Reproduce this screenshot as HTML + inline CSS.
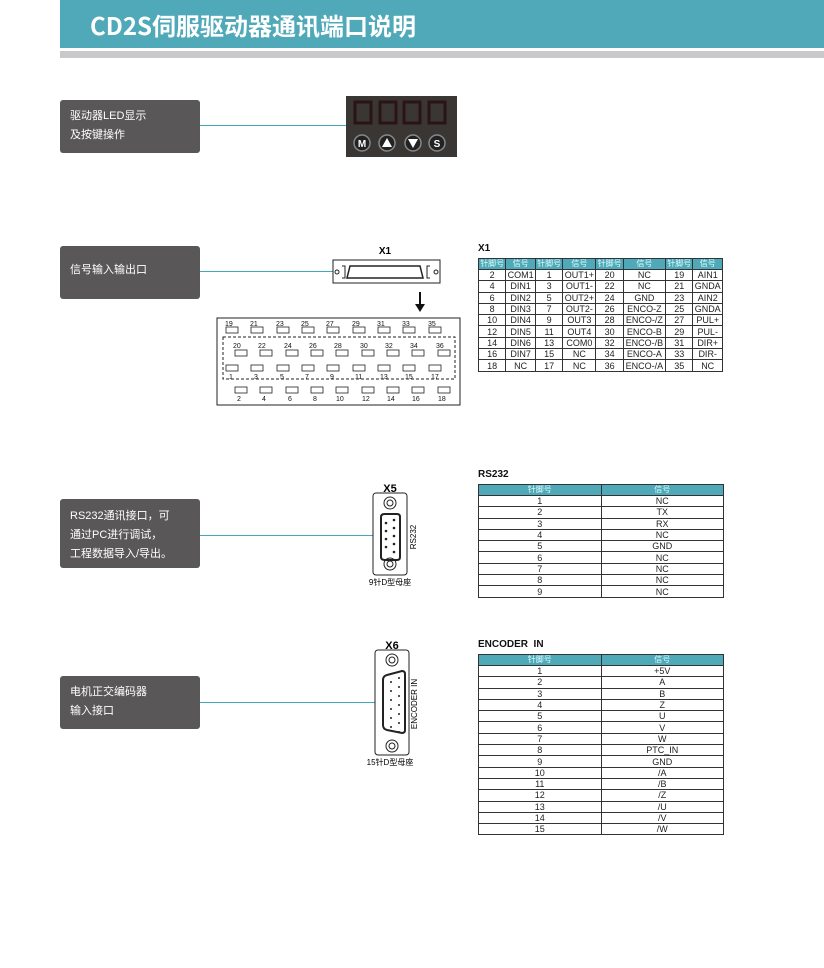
<!DOCTYPE html>
<html><head><meta charset="utf-8"><style>
*{margin:0;padding:0;box-sizing:border-box}
body{width:824px;height:968px;background:#fff;position:relative;overflow:hidden;font-family:"Liberation Sans","Noto Sans CJK SC",sans-serif}
.a{position:absolute}
.box{position:absolute;left:60px;width:140px;background:#595757;border-radius:3px;color:#fff;font-size:11px;line-height:19px;padding-left:10px}
.ln{position:absolute;height:1px;background:#3fa8ba}
table{border-collapse:collapse;position:absolute;font-size:9px;text-align:center;color:#222}
td{border:1px solid #333;height:11.3px;line-height:10px;padding:0}
th{background:#4fa9b8;color:#dff;font-weight:normal;font-size:8px;height:11px;line-height:10px;border:1px solid #333;padding:0}
.tt{position:absolute;font-weight:bold;font-size:10px;color:#111}
</style></head><body>
<div class="a" style="left:60px;top:0;width:764px;height:48px;background:#50a9b9"></div>
<div class="a" style="left:60px;top:51px;width:764px;height:7px;background:#c9c9cb"></div>
<div class="a" style="left:90px;top:7px;color:#fff;font-size:24px;font-weight:bold;font-family:'Noto Sans CJK SC','Liberation Sans',sans-serif">CD2S伺服驱动器通讯端口说明</div>

<div class="box" style="top:100px;height:53px;padding-top:7px">驱动器LED显示<br>及按键操作</div>
<div class="ln" style="left:200px;top:125px;width:146px"></div>
<svg class="a" style="left:346px;top:96px" width="111" height="61">
<rect width="111" height="61" fill="#3a3634"/>
<g fill="none" stroke="#2a1414" stroke-width="3">
<rect x="9" y="6" width="16" height="21"/><rect x="34" y="6" width="16" height="21"/><rect x="58" y="6" width="16" height="21"/><rect x="83" y="6" width="16" height="21"/></g>
<g fill="#222" stroke="#888" stroke-width="1.5"><circle cx="16" cy="47" r="8"/><circle cx="41" cy="47" r="8"/><circle cx="67" cy="47" r="8"/><circle cx="91" cy="47" r="8"/></g>
<text x="16" y="51" fill="#fff" font-size="10" font-weight="bold" text-anchor="middle">M</text>
<polygon points="41,42 46,51 36,51" fill="#fff"/><polygon points="62,43 72,43 67,52" fill="#fff"/>
<text x="91" y="51" fill="#fff" font-size="10" font-weight="bold" text-anchor="middle">S</text>
</svg>

<div class="box" style="top:246px;height:53px;padding-top:15px">信号输入输出口</div>
<div class="ln" style="left:200px;top:271px;width:133px"></div>
<svg class="a" style="left:210px;top:240px" width="260" height="170" font-family="Liberation Sans" >
<text x="175" y="14" font-size="10" font-weight="bold" text-anchor="middle">X1</text>
<rect x="123" y="20" width="107" height="23" fill="#fff" stroke="#222"/>
<circle cx="127" cy="32" r="2" fill="none" stroke="#222"/><circle cx="226" cy="32" r="2" fill="none" stroke="#222"/>
<path d="M132 26h3v12h-3M220 26h-3v12h3" fill="none" stroke="#222"/>
<path d="M140 26h70l3 12h-76z" fill="none" stroke="#222" stroke-width="1.5"/>
<line x1="210" y1="52" x2="210" y2="66" stroke="#111" stroke-width="2"/><polygon points="205,64 215,64 210,72" fill="#111"/>
<rect x="7" y="78" width="243" height="87" fill="#fff" stroke="#222"/>
<rect x="13" y="97" width="232" height="42" fill="none" stroke="#222" stroke-dasharray="3,2"/>
<g font-size="7" fill="#111" stroke="#222" stroke-width="0.8">
<g fill="none"><rect x="16" y="87" width="12" height="6"/><rect x="41" y="87" width="12" height="6"/><rect x="67" y="87" width="12" height="6"/><rect x="92" y="87" width="12" height="6"/><rect x="117" y="87" width="12" height="6"/><rect x="143" y="87" width="12" height="6"/><rect x="168" y="87" width="12" height="6"/><rect x="193" y="87" width="12" height="6"/><rect x="219" y="87" width="12" height="6"/>
<rect x="25" y="110" width="12" height="6"/><rect x="50" y="110" width="12" height="6"/><rect x="76" y="110" width="12" height="6"/><rect x="101" y="110" width="12" height="6"/><rect x="126" y="110" width="12" height="6"/><rect x="152" y="110" width="12" height="6"/><rect x="177" y="110" width="12" height="6"/><rect x="202" y="110" width="12" height="6"/><rect x="228" y="110" width="12" height="6"/>
<rect x="16" y="125" width="12" height="6"/><rect x="41" y="125" width="12" height="6"/><rect x="67" y="125" width="12" height="6"/><rect x="92" y="125" width="12" height="6"/><rect x="117" y="125" width="12" height="6"/><rect x="143" y="125" width="12" height="6"/><rect x="168" y="125" width="12" height="6"/><rect x="193" y="125" width="12" height="6"/><rect x="219" y="125" width="12" height="6"/>
<rect x="25" y="147" width="12" height="6"/><rect x="50" y="147" width="12" height="6"/><rect x="76" y="147" width="12" height="6"/><rect x="101" y="147" width="12" height="6"/><rect x="126" y="147" width="12" height="6"/><rect x="152" y="147" width="12" height="6"/><rect x="177" y="147" width="12" height="6"/><rect x="202" y="147" width="12" height="6"/><rect x="228" y="147" width="12" height="6"/></g>
</g>
<g font-size="7" fill="#111">
<text x="15" y="86">19</text><text x="40" y="86">21</text><text x="66" y="86">23</text><text x="91" y="86">25</text><text x="116" y="86">27</text><text x="142" y="86">29</text><text x="167" y="86">31</text><text x="192" y="86">33</text><text x="218" y="86">35</text>
<text x="23" y="108">20</text><text x="48" y="108">22</text><text x="74" y="108">24</text><text x="99" y="108">26</text><text x="124" y="108">28</text><text x="150" y="108">30</text><text x="175" y="108">32</text><text x="200" y="108">34</text><text x="226" y="108">36</text>
<text x="19" y="139">1</text><text x="44" y="139">3</text><text x="70" y="139">5</text><text x="95" y="139">7</text><text x="120" y="139">9</text><text x="145" y="139">11</text><text x="170" y="139">13</text><text x="195" y="139">15</text><text x="221" y="139">17</text>
<text x="27" y="161">2</text><text x="52" y="161">4</text><text x="78" y="161">6</text><text x="103" y="161">8</text><text x="126" y="161">10</text><text x="152" y="161">12</text><text x="177" y="161">14</text><text x="202" y="161">16</text><text x="228" y="161">18</text>
</g></svg>

<div class="tt" style="left:478px;top:243px">X1</div>
<table style="left:478px;top:258px;width:245px">
<tr><th>针脚号</th><th>信号</th><th>针脚号</th><th>信号</th><th>针脚号</th><th>信号</th><th>针脚号</th><th>信号</th></tr>
<tr><td>2</td><td>COM1</td><td>1</td><td>OUT1+</td><td>20</td><td>NC</td><td>19</td><td>AIN1</td></tr>
<tr><td>4</td><td>DIN1</td><td>3</td><td>OUT1-</td><td>22</td><td>NC</td><td>21</td><td>GNDA</td></tr>
<tr><td>6</td><td>DIN2</td><td>5</td><td>OUT2+</td><td>24</td><td>GND</td><td>23</td><td>AIN2</td></tr>
<tr><td>8</td><td>DIN3</td><td>7</td><td>OUT2-</td><td>26</td><td>ENCO-Z</td><td>25</td><td>GNDA</td></tr>
<tr><td>10</td><td>DIN4</td><td>9</td><td>OUT3</td><td>28</td><td>ENCO-/Z</td><td>27</td><td>PUL+</td></tr>
<tr><td>12</td><td>DIN5</td><td>11</td><td>OUT4</td><td>30</td><td>ENCO-B</td><td>29</td><td>PUL-</td></tr>
<tr><td>14</td><td>DIN6</td><td>13</td><td>COM0</td><td>32</td><td>ENCO-/B</td><td>31</td><td>DIR+</td></tr>
<tr><td>16</td><td>DIN7</td><td>15</td><td>NC</td><td>34</td><td>ENCO-A</td><td>33</td><td>DIR-</td></tr>
<tr><td>18</td><td>NC</td><td>17</td><td>NC</td><td>36</td><td>ENCO-/A</td><td>35</td><td>NC</td></tr>
</table>

<div class="box" style="top:499px;height:69px;padding-top:8px">RS232通讯接口，可<br>通过PC进行调试，<br>工程数据导入/导出。</div>
<div class="ln" style="left:200px;top:535px;width:173px"></div>
<svg class="a" style="left:360px;top:480px" width="70" height="110">
<text x="30" y="12" font-size="11" font-weight="bold" text-anchor="middle" font-family="Liberation Sans">X5</text>
<rect x="13" y="13" width="34" height="82" rx="3" fill="#fff" stroke="#222"/>
<circle cx="30" cy="23" r="6" fill="none" stroke="#222"/><circle cx="30" cy="23" r="3" fill="none" stroke="#222"/>
<circle cx="30" cy="84" r="6" fill="none" stroke="#222"/><circle cx="30" cy="84" r="3" fill="none" stroke="#222"/>
<path d="M21 37q0-3 4-3h12q3 0 3 3v40q0 3-3 3h-12q-4 0-4-3z" fill="none" stroke="#222" stroke-width="2"/>
<g fill="#222"><circle cx="26" cy="43" r="1.3"/><circle cx="26" cy="51" r="1.3"/><circle cx="26" cy="59" r="1.3"/><circle cx="26" cy="67" r="1.3"/><circle cx="34" cy="40" r="1.3"/><circle cx="34" cy="48" r="1.3"/><circle cx="34" cy="56" r="1.3"/><circle cx="34" cy="64" r="1.3"/><circle cx="34" cy="72" r="1.3"/></g>
<text transform="translate(56,57) rotate(-90)" font-size="8" text-anchor="middle" font-family="Liberation Sans">RS232</text>
<text x="30" y="105" font-size="8" text-anchor="middle" font-family="Liberation Sans,Noto Sans CJK SC">9针D型母座</text>
</svg>

<div class="tt" style="left:478px;top:469px">RS232</div>
<table style="left:478px;top:484px;width:246px">
<tr><th style="width:50%">针脚号</th><th>信号</th></tr>
<tr><td>1</td><td>NC</td></tr><tr><td>2</td><td>TX</td></tr><tr><td>3</td><td>RX</td></tr><tr><td>4</td><td>NC</td></tr><tr><td>5</td><td>GND</td></tr><tr><td>6</td><td>NC</td></tr><tr><td>7</td><td>NC</td></tr><tr><td>8</td><td>NC</td></tr><tr><td>9</td><td>NC</td></tr>
</table>

<div class="box" style="top:676px;height:53px;padding-top:7px">电机正交编码器<br>输入接口</div>
<div class="ln" style="left:200px;top:702px;width:175px"></div>
<svg class="a" style="left:360px;top:636px" width="70" height="135">
<text x="32" y="13" font-size="11" font-weight="bold" text-anchor="middle" font-family="Liberation Sans">X6</text>
<rect x="15" y="14" width="34" height="105" rx="3" fill="#fff" stroke="#222"/>
<circle cx="32" cy="24" r="6" fill="none" stroke="#222"/><circle cx="32" cy="24" r="3" fill="none" stroke="#222"/>
<circle cx="32" cy="110" r="6" fill="none" stroke="#222"/><circle cx="32" cy="110" r="3" fill="none" stroke="#222"/>
<path d="M23 44q0-4 4-5l15-4q3 0 3 3v56q0 3-3 3l-15-3q-4-1-4-5z" fill="none" stroke="#222" stroke-width="2"/>
<g fill="#222"><circle cx="31" cy="46" r="1"/><circle cx="31" cy="55" r="1"/><circle cx="31" cy="64" r="1"/><circle cx="31" cy="73" r="1"/><circle cx="31" cy="82" r="1"/><circle cx="31" cy="91" r="1"/><circle cx="39" cy="42" r="1"/><circle cx="39" cy="51" r="1"/><circle cx="39" cy="60" r="1"/><circle cx="39" cy="69" r="1"/><circle cx="39" cy="78" r="1"/><circle cx="39" cy="87" r="1"/><circle cx="39" cy="96" r="1"/></g>
<text transform="translate(57,68) rotate(-90)" font-size="8" text-anchor="middle" font-family="Liberation Sans">ENCODER IN</text>
<text x="30" y="129" font-size="8" text-anchor="middle" font-family="Liberation Sans,Noto Sans CJK SC">15针D型母座</text>
</svg>

<div class="tt" style="left:478px;top:639px">ENCODER&nbsp; IN</div>
<table style="left:478px;top:654px;width:246px">
<tr><th style="width:50%">针脚号</th><th>信号</th></tr>
<tr><td>1</td><td>+5V</td></tr><tr><td>2</td><td>A</td></tr><tr><td>3</td><td>B</td></tr><tr><td>4</td><td>Z</td></tr><tr><td>5</td><td>U</td></tr><tr><td>6</td><td>V</td></tr><tr><td>7</td><td>W</td></tr><tr><td>8</td><td>PTC_IN</td></tr><tr><td>9</td><td>GND</td></tr><tr><td>10</td><td>/A</td></tr><tr><td>11</td><td>/B</td></tr><tr><td>12</td><td>/Z</td></tr><tr><td>13</td><td>/U</td></tr><tr><td>14</td><td>/V</td></tr><tr><td>15</td><td>/W</td></tr>
</table>
</body></html>
